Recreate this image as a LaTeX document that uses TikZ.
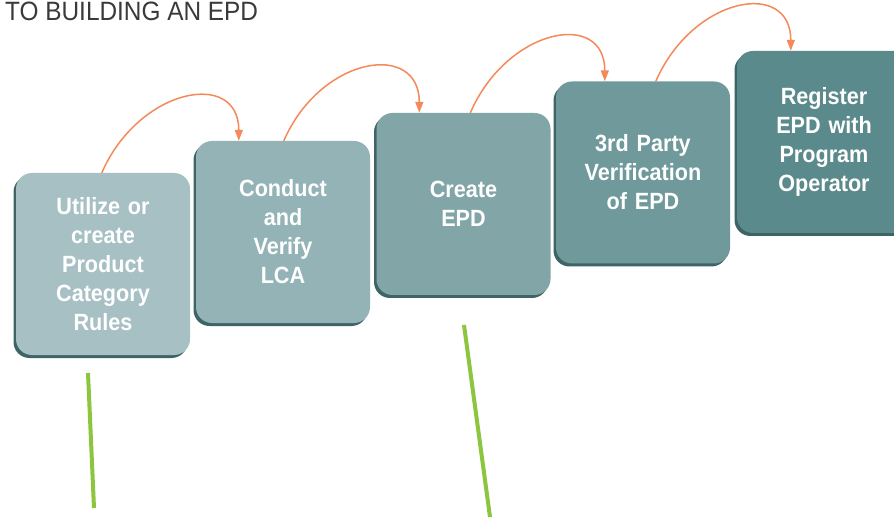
\documentclass[tikz,border=0pt]{standalone}
\usepackage{fontspec}
\setmainfont{Liberation Sans}
\newfontfamily\boxfont{Liberation Sans}[FakeStretch=0.92]
\newfontfamily\titlefont{Liberation Sans}[FakeStretch=0.92]
\usetikzlibrary{arrows.meta,shadows}
\definecolor{boxA}{HTML}{A7C0C4}
\definecolor{boxB}{HTML}{94B3B6}
\definecolor{boxC}{HTML}{82A5A7}
\definecolor{boxD}{HTML}{6F999B}
\definecolor{boxE}{HTML}{5B8A8C}
\definecolor{shadowc}{HTML}{3F6466}
\definecolor{arrowc}{HTML}{F5895A}
\definecolor{greenc}{HTML}{8CC63F}
\definecolor{titlec}{HTML}{3A3A3A}
\tikzset{
  stepbox/.style={rounded corners=16pt, minimum width=174pt, minimum height=182pt,
    inner sep=0pt, text width=165pt, align=center, text=white,
    font=\boxfont\bfseries\fontsize{23.5}{29}\selectfont,
    general shadow={fill=shadowc, shadow xshift=-2.5pt, shadow yshift=-3pt}},
  flowarrow/.style={draw=arrowc, line width=1.5pt, -{Triangle[length=11pt,width=8pt]}},
  greenline/.style={draw=greenc, line width=4pt},
}
\begin{document}
\begin{tikzpicture}[x=1pt,y=-1pt]
\useasboundingbox (0,0) rectangle (894,521);
\clip (0,0) rectangle (894,521);
\fill[white] (0,0) rectangle (894,521);
\node[anchor=base west, text=titlec, font=\titlefont\fontsize{26.5}{30}\selectfont, inner sep=0pt] (title) at (5,20.5) {TO BUILDING AN EPD};
\node[stepbox, fill=boxA] (b1) at (103,264) {Utilize or\\create\\Product\\Category\\Rules};
\node[stepbox, fill=boxB] (b2) at (283,232) {Conduct\\and\\Verify\\LCA};
\node[stepbox, fill=boxC] (b3) at (463.5,204) {Create\\EPD};
\node[stepbox, fill=boxD] (b4) at (643,172.5) {3rd Party\\Verification\\of EPD};
\node[stepbox, fill=boxE] (b5) at (824,142) {Register\\EPD with\\Program\\Operator};
\draw[flowarrow] ([xshift=86pt]b1.north west) .. controls +(37,-85) and +(0,-72) .. ([xshift=43pt]b2.north west);
\draw[flowarrow] ([xshift=88pt]b2.north west) .. controls +(37,-85) and +(0,-72) .. ([xshift=43pt]b3.north west);
\draw[flowarrow] ([xshift=94pt]b3.north west) .. controls +(37,-85) and +(0,-72) .. ([xshift=49pt]b4.north west);
\draw[flowarrow] ([xshift=100pt]b4.north west) .. controls +(37,-85) and +(0,-72) .. ([xshift=54pt]b5.north west);
\coordinate (g1a) at (88,373);
\coordinate (g1b) at (94,508);
\coordinate (g2a) at (464,325);
\coordinate (g2b) at (490,517);
\draw[greenline] (g1a) -- (g1b);
\draw[greenline] (g2a) -- (g2b);
\end{tikzpicture}
\end{document}
